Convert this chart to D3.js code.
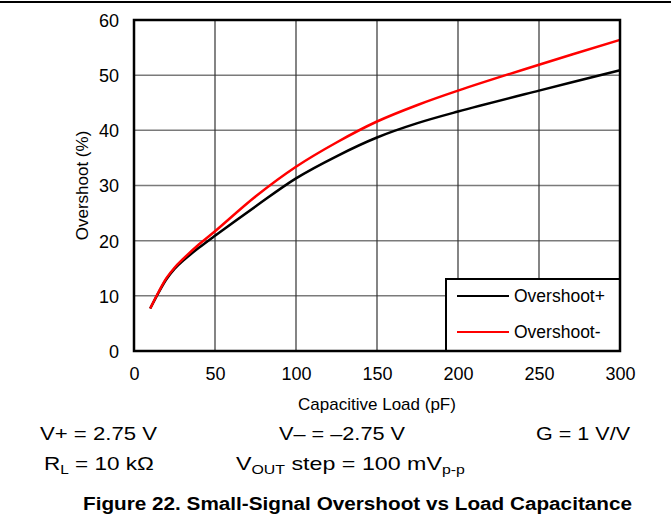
<!DOCTYPE html>
<html>
<head>
<meta charset="utf-8">
<script src="https://d3js.org/d3.v7.min.js"></script>
<style>
  body { margin: 0; background: #fff; }
  text { font-family: "Liberation Sans", Arial, sans-serif; fill: #000; }
</style>
</head>
<body>
<div id="chart"></div>
<script>
// data
var capacitance = [10, 15, 20, 25, 30, 40, 50, 75, 100, 125, 150, 175, 200, 250, 300];
var overshootPlus = [7.7, 10.5, 13.0, 14.9, 16.3, 18.7, 20.9, 26.2, 31.3, 35.3, 38.7, 41.3, 43.4, 47.2, 50.9];
var overshootMinus = [7.7, 10.6, 13.2, 15.1, 16.6, 19.3, 21.7, 28.0, 33.4, 37.8, 41.6, 44.6, 47.2, 51.9, 56.4];
var xTicks = [0, 50, 100, 150, 200, 250, 300];
var yTicks = [0, 10, 20, 30, 40, 50, 60];
var seriesNames = ["Overshoot+", "Overshoot-"];
var seriesColors = ["#000000", "#ff0000"];

var w = 671, h = 520;
var pLeft = 134, pRight = 620, pTop = 20, pBottom = 351;

var svg = d3.select("#chart").append("svg")
  .attr("width", w).attr("height", h);

// rule across the top of the page
svg.append("line")
  .attr("x1", 0).attr("x2", w).attr("y1", 2).attr("y2", 2)
  .attr("stroke", "#000").attr("stroke-width", 2);

var x = d3.scaleLinear().domain([0, 300]).range([pLeft, pRight]);
var y = d3.scaleLinear().domain([0, 60]).range([pBottom, pTop]);

// grid
svg.append("g").selectAll("line").data(yTicks.slice(1, -1)).enter().append("line")
  .attr("x1", pLeft).attr("x2", pRight)
  .attr("y1", function(d){ return y(d); }).attr("y2", function(d){ return y(d); })
  .attr("stroke", "#7a7a7a").attr("stroke-width", 1.5);
svg.append("g").selectAll("line").data(xTicks.slice(1, -1)).enter().append("line")
  .attr("y1", pTop).attr("y2", pBottom)
  .attr("x1", function(d){ return x(d); }).attr("x2", function(d){ return x(d); })
  .attr("stroke", "#333").attr("stroke-width", 1.2);

// axes (labels only, the frame is drawn separately)
var xAxis = svg.append("g").attr("transform", "translate(0," + pBottom + ")")
  .call(d3.axisBottom(x).tickValues(xTicks).tickSize(0).tickPadding(16));
var yAxis = svg.append("g").attr("transform", "translate(" + pLeft + ",0)")
  .call(d3.axisLeft(y).tickValues(yTicks).tickSize(0).tickPadding(15));
[xAxis, yAxis].forEach(function(a){
  a.select(".domain").remove();
  a.selectAll("text").attr("font-size", 18).attr("font-family", "Liberation Sans, Arial, sans-serif");
});
yAxis.selectAll("text").attr("dy", "0.36em");

// curves
var line = d3.line().curve(d3.curveCatmullRom.alpha(0.5))
  .x(function(d){ return x(d[0]); })
  .y(function(d){ return y(d[1]); });
[overshootPlus, overshootMinus].forEach(function(vals, i){
  svg.append("path")
    .datum(capacitance.map(function(c, j){ return [c, vals[j]]; }))
    .attr("d", line)
    .attr("fill", "none")
    .attr("stroke", seriesColors[i])
    .attr("stroke-width", 2.5);
});

// legend
var lg = svg.append("g");
lg.append("rect")
  .attr("x", 446).attr("y", 279).attr("width", pRight - 446).attr("height", pBottom - 279)
  .attr("fill", "#fff").attr("stroke", "#000").attr("stroke-width", 2);
seriesNames.forEach(function(name, i){
  var ly = 296 + i * 36;
  lg.append("line").attr("x1", 457).attr("x2", 509).attr("y1", ly).attr("y2", ly)
    .attr("stroke", seriesColors[i]).attr("stroke-width", 2);
  lg.append("text").attr("x", 514).attr("y", ly + 6).attr("font-size", 17.5).text(name);
});

// frame
svg.append("rect")
  .attr("x", pLeft).attr("y", pTop).attr("width", pRight - pLeft).attr("height", pBottom - pTop)
  .attr("fill", "none").attr("stroke", "#000").attr("stroke-width", 2.5);

// axis titles
svg.append("text").attr("x", (pLeft + pRight) / 2).attr("y", 410)
  .attr("text-anchor", "middle").attr("font-size", 17).text("Capacitive Load (pF)");
svg.append("text")
  .attr("transform", "translate(88," + (pTop + pBottom) / 2 + ") rotate(-90)")
  .attr("text-anchor", "middle").attr("font-size", 17).text("Overshoot (%)");

// test conditions; the source font is a little wider than Arial, so stretch to width
function stretched(x0, y0, width) {
  return svg.append("text").attr("x", x0).attr("y", y0).attr("font-size", 19)
    .attr("textLength", width).attr("lengthAdjust", "spacingAndGlyphs");
}
stretched(40, 440, 117).text("V+ = 2.75 V");
stretched(279, 440, 126).text("V\u2013 = \u20132.75 V");
stretched(536, 440, 94).text("G = 1 V/V");

var t1 = svg.append("text").attr("x", 44).attr("y", 470).attr("font-size", 19);
t1.append("tspan").text("R");
t1.append("tspan").attr("font-size", 13).attr("dy", 4).text("L");
t1.append("tspan").attr("dy", -4).text(" = 10 k\u03a9");

var t2 = svg.append("text").attr("x", 236).attr("y", 470).attr("font-size", 19);
t2.append("tspan").text("V");
t2.append("tspan").attr("font-size", 13).attr("dy", 4).text("OUT");
t2.append("tspan").attr("dy", -4).text(" step = 100 mV");
t2.append("tspan").attr("font-size", 13).attr("dy", 4).text("p-p");

// stretch the subscripted lines to their measured widths
[[t1, 44, 110], [t2, 236, 229]].forEach(function(d){
  var bw = d[0].node().getBBox().width;
  d[0].attr("x", 0).attr("transform", "translate(" + d[1] + ",0) scale(" + (d[2] / bw) + ",1)");
});

// caption
svg.append("text").attr("x", 83).attr("y", 510)
  .attr("font-size", 17.5).attr("font-weight", "bold")
  .attr("textLength", 549).attr("lengthAdjust", "spacingAndGlyphs")
  .text("Figure 22. Small-Signal Overshoot vs Load Capacitance");
</script>
</body>
</html>
